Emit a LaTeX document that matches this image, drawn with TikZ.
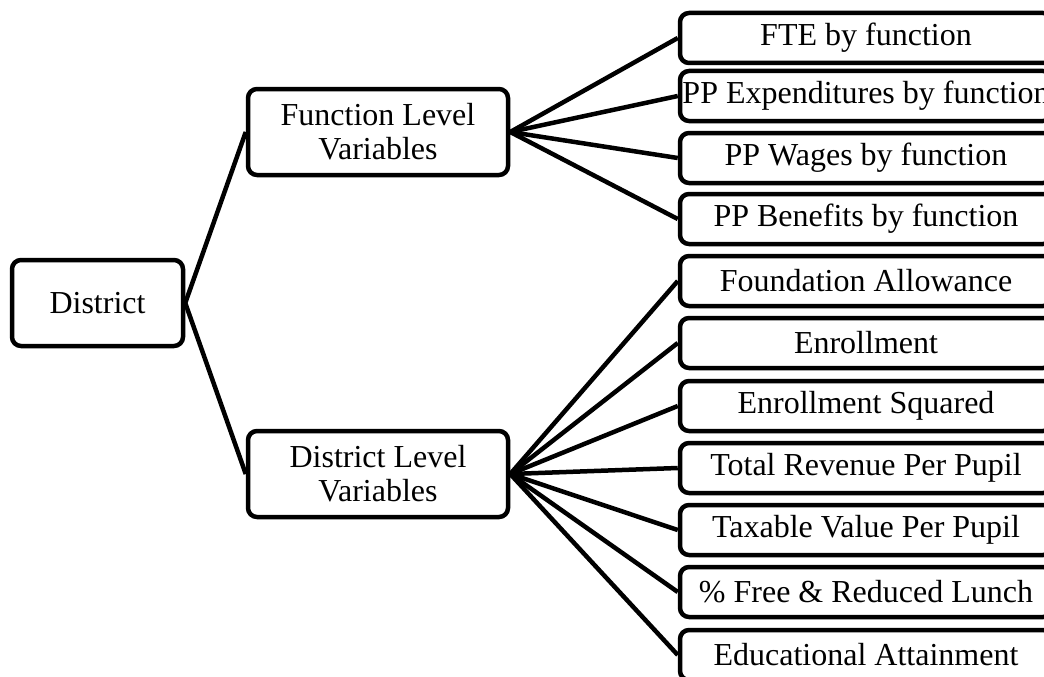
\documentclass[tikz,border=0pt]{standalone}
\usepackage{fontspec}
\setmainfont{Liberation Serif}
\begin{document}
\begin{tikzpicture}[x=1pt,y=-1pt,
  box/.style={draw, line width=4.5pt, rounded corners=9pt, align=center, inner sep=0pt, fill=white,
    font=\fontsize{32}{34}\selectfont},
  leaf/.style={box, minimum width=372pt, minimum height=50pt},
  mid/.style={box, minimum width=260pt, minimum height=86pt},
  link/.style={line width=4.5pt}]
\useasboundingbox (0,0) rectangle (1044,677);
\clip (0,0) rectangle (1044,677);
\fill[white] (0,0) rectangle (1044,677);

\node[box, minimum width=171pt, minimum height=86pt] (dist) at (97.5,303) {District};
\node[mid] (fl) at (378,132) {Function Level\\Variables};
\node[mid] (dl) at (378,474) {District Level\\Variables};

\node[leaf] (f1) at (866,38)  {FTE by function};
\node[leaf] (f2) at (866,96)  {PP Expenditures by function};
\node[leaf] (f3) at (866,158) {PP Wages by function};
\node[leaf] (f4) at (866,219) {PP Benefits by function};

\node[leaf] (d1) at (866,281) {Foundation Allowance};
\node[leaf] (d2) at (866,343) {Enrollment};
\node[leaf] (d3) at (866,406) {Enrollment Squared};
\node[leaf] (d4) at (866,468) {Total Revenue Per Pupil};
\node[leaf] (d5) at (866,530) {Taxable Value Per Pupil};
\node[leaf] (d6) at (866,592) {\% Free \& Reduced Lunch};
\node[leaf] (d7) at (866,655) {Educational Attainment};

\draw[link] (dist.east) -- (fl.west);
\draw[link] (dist.east) -- (dl.west);
\foreach \n in {f1,f2,f3,f4} \draw[link] (fl.east) -- (\n.west);
\foreach \n in {d1,d2,d3,d4,d5,d6,d7} \draw[link] (dl.east) -- (\n.west);
\end{tikzpicture}
\end{document}
